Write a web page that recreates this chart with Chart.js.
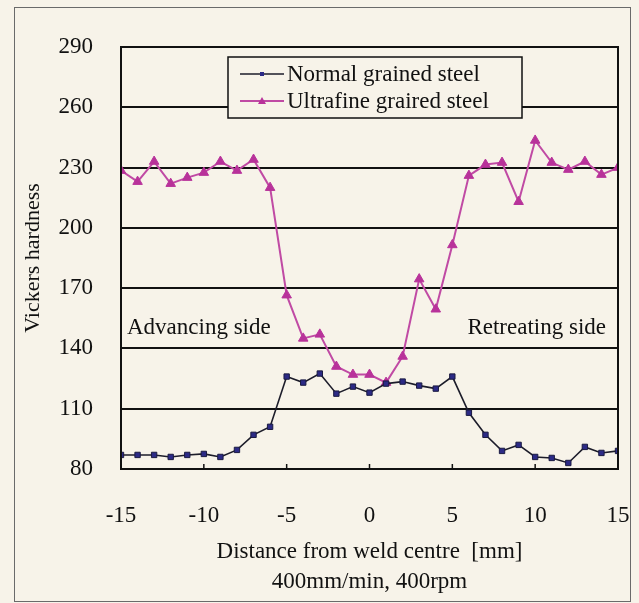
<!DOCTYPE html>
<html>
<head>
<meta charset="utf-8">
<script src="https://cdn.jsdelivr.net/npm/chart.js@4/dist/chart.umd.min.js"></script>
<style>
  body { margin: 0; background: #f7f3e9; }
  #wrap { position: relative; width: 639px; height: 603px; }
  #frame { position: absolute; left: 14px; top: 7px; width: 615px; height: 593px; border: 1px solid #6a6a6a; pointer-events: none; }
  canvas { position: absolute; left: 0; top: 0; }
</style>
</head>
<body>
<div id="wrap">
  <canvas id="chart1" width="639" height="603"></canvas>
  <div id="frame"></div>
</div>
<script>
// distance from weld centre, mm
const distance = [-15, -14, -13, -12, -11, -10, -9, -8, -7, -6, -5, -4, -3, -2, -1, 0,
                  1, 2, 3, 4, 5, 6, 7, 8, 9, 10, 11, 12, 13, 14, 15];
const normalSteel = [87, 87, 87, 86, 87, 87.5, 86, 89.5, 97, 101, 126, 123, 127.5, 117.5, 121, 118,
                     122.5, 123.5, 121.5, 120, 126, 108, 97, 89, 92, 86, 85.5, 83, 91, 88, 89];
const ultrafineSteel = [228.5, 223, 233, 222, 225, 227.5, 233, 228.5, 234, 220, 166.5, 145, 147, 131, 127, 127,
                        123, 136, 174.5, 159.5, 191.5, 226, 231.5, 232.5, 213, 243.5, 232.5, 229, 233, 226.5, 230];
const seriesNames = ['Normal grained steel', 'Ultrafine graired steel'];
const xTicks = [-15, -10, -5, 0, 5, 10, 15];
const yTicks = [80, 110, 140, 170, 200, 230, 260, 290];
const sideLabels = ['Advancing side', 'Retreating side'];

const serif = '"Liberation Serif", "Times New Roman", serif';
const ctx1 = document.getElementById('chart1');

function toPoints(ys){
  return distance.map((x, i) => ({x: x, y: ys[i]}));
}

const framePlugin = {
  id: 'framePlugin',
  afterDatasetsDraw(chart){
    const c = chart.ctx;
    const a = chart.chartArea;
    const xs = chart.scales.x;
    c.save();
    // plot box
    c.strokeStyle = '#111';
    c.lineWidth = 2;
    c.strokeRect(a.left, a.top, a.right - a.left, a.bottom - a.top);
    // small inner tick marks on the x axis
    c.lineWidth = 1.5;
    xTicks.forEach(v => {
      const px = xs.getPixelForValue(v);
      c.beginPath();
      c.moveTo(px, a.bottom);
      c.lineTo(px, a.bottom - 5);
      c.stroke();
    });

    // side labels
    c.fillStyle = '#111';
    c.font = '23px ' + serif;
    c.textBaseline = 'middle';
    c.textAlign = 'left';
    c.fillText(sideLabels[0], a.left + 6, 328);
    c.textAlign = 'right';
    c.fillText(sideLabels[1], a.right - 12, 328);

    // legend box
    const lx = 228, ly = 57, lw = 294, lh = 61;
    c.fillStyle = '#f7f3e9';
    c.fillRect(lx, ly, lw, lh);
    c.strokeStyle = '#111';
    c.lineWidth = 1.5;
    c.strokeRect(lx, ly, lw, lh);
    chart.data.datasets.forEach((ds, i) => {
      const yy = ly + 17 + i * 27;
      c.strokeStyle = ds.borderColor;
      c.lineWidth = ds.borderWidth;
      c.beginPath();
      c.moveTo(lx + 12, yy);
      c.lineTo(lx + 56, yy);
      c.stroke();
      c.fillStyle = ds.pointBackgroundColor;
      c.beginPath();
      if (ds.pointStyle === 'triangle'){
        c.moveTo(lx + 34, yy - 4);
        c.lineTo(lx + 38, yy + 3);
        c.lineTo(lx + 30, yy + 3);
        c.closePath();
      } else {
        c.rect(lx + 32, yy - 2, 4, 4);
      }
      c.fill();
      c.fillStyle = '#111';
      c.textAlign = 'left';
      c.font = '23px ' + serif;
      c.fillText(ds.label, lx + 59, yy + 1);
    });
    c.restore();
  }
};

const myChart1 = new Chart(ctx1, {
  type: 'line',
  data: {
    datasets: [{
      label: seriesNames[0],
      data: toPoints(normalSteel),
      borderColor: '#1c1c2a',
      borderWidth: 1.6,
      pointStyle: 'rect',
      pointRadius: 3.8,
      pointBackgroundColor: '#2c2a86',
      pointBorderColor: '#1a1a40',
      pointBorderWidth: 1,
      tension: 0
    }, {
      label: seriesNames[1],
      data: toPoints(ultrafineSteel),
      borderColor: '#c04aa4',
      borderWidth: 2,
      pointStyle: 'triangle',
      pointRadius: 5.5,
      pointBackgroundColor: '#b8329a',
      pointBorderColor: '#b8329a',
      pointBorderWidth: 1,
      tension: 0
    }]
  },
  options: {
    responsive: false,
    animation: false,
    layout: { padding: { left: 14, right: 21, top: 47, bottom: 6 } },
    plugins: {
      legend: { display: false },
      tooltip: { enabled: false }
    },
    scales: {
      x: {
        type: 'linear',
        min: -15,
        max: 15,
        afterBuildTicks: s => { s.ticks = xTicks.map(v => ({value: v})); },
        afterFit: s => { s.height = 128; },
        grid: { display: true, drawOnChartArea: false, drawTicks: true, tickLength: 32, tickColor: 'rgba(0,0,0,0)' },
        border: { display: false },
        ticks: {
          padding: 1,
          color: '#111',
          font: { family: serif, size: 23 }
        },
        title: {
          display: true,
          text: ['Distance from weld centre  [mm]', '400mm/min, 400rpm'],
          color: '#111',
          font: { family: serif, size: 23, lineHeight: 1.3 },
          padding: { top: 0, bottom: 0 }
        }
      },
      y: {
        min: 80,
        max: 290,
        afterBuildTicks: s => { s.ticks = yTicks.map(v => ({value: v})); },
        afterFit: s => { s.width = 107; },
        grid: { color: '#111', lineWidth: 2, drawTicks: false },
        border: { display: false },
        ticks: {
          padding: 28,
          color: '#111',
          font: { family: serif, size: 23 }
        },
        title: {
          display: true,
          text: 'Vickers hardness',
          color: '#111',
          font: { family: serif, size: 22 },
          padding: { top: 6, bottom: 0 }
        }
      }
    }
  },
  plugins: [framePlugin]
});
</script>
</body>
</html>
